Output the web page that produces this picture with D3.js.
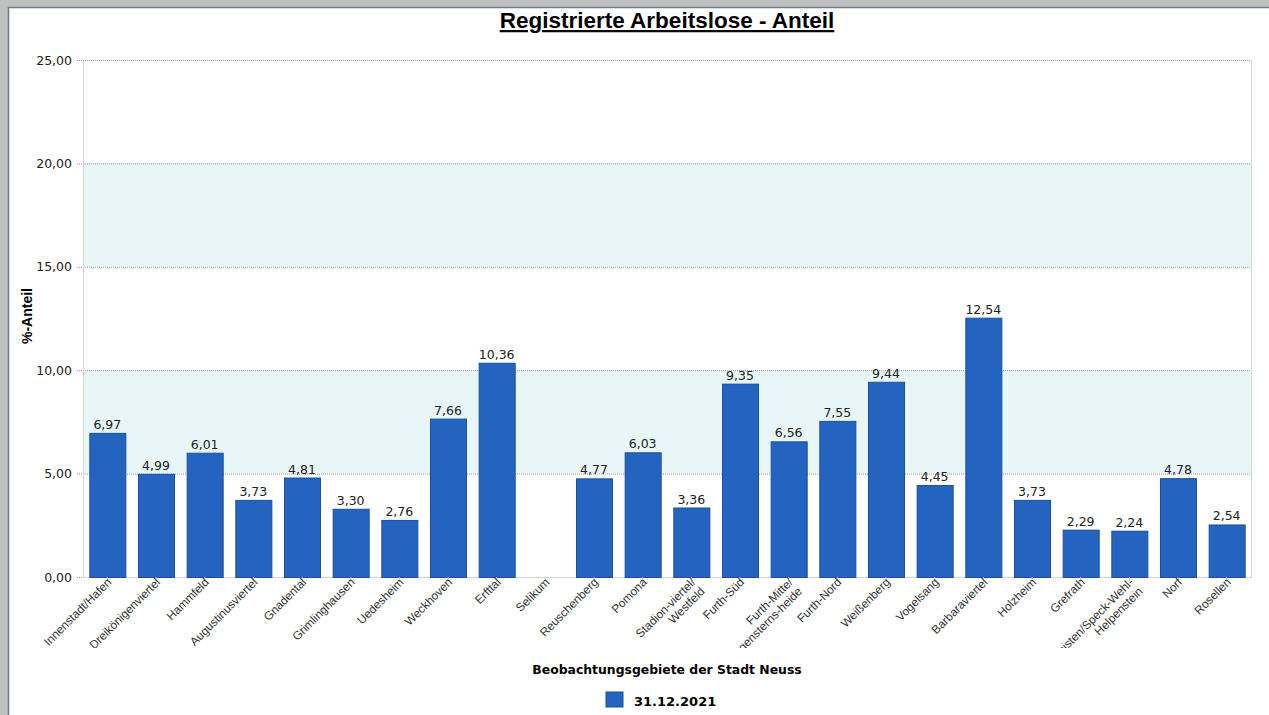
<!DOCTYPE html>
<html><head><meta charset="utf-8">
<script src="https://cdn.jsdelivr.net/npm/d3@7"></script>
<style>
html,body{margin:0;padding:0;background:#c0c0c0;overflow:hidden}
svg{display:block}
</style></head><body>
<script>
const categories = ["Innenstadt/Hafen","Dreikönigenviertel","Hammfeld","Augustinusviertel","Gnadental","Grimlinghausen","Uedesheim","Weckhoven","Erfttal","Selikum","Reuschenberg","Pomona","Stadion-viertel/|Westfeld","Furth-Süd","Furth-Mitte/|Morgensterns-heide","Furth-Nord","Weißenberg","Vogelsang","Barbaraviertel","Holzheim","Grefrath","Hoisten/Speck-Wehl-|Helpenstein","Norf","Rosellen"];
const values = [6.97,4.99,6.01,3.73,4.81,3.30,2.76,7.66,10.36,null,4.77,6.03,3.36,9.35,6.56,7.55,9.44,4.45,12.54,3.73,2.29,2.24,4.78,2.54];
const yTicks = [0,5,10,15,20,25];
const bands = [[5,10],[15,20]];
const seriesName = "31.12.2021";
const title = "Registrierte Arbeitslose - Anteil";
const xTitle = "Beobachtungsgebiete der Stadt Neuss";
const yTitle = "%-Anteil";

const W = 1269, H = 715;
const m = {left:83, top:60, right:1251, bottom:577};
const fmt = v => v.toFixed(2).replace(".", ",");
const font = "'DejaVu Sans', Verdana, sans-serif";
const labelFont = "'Liberation Sans', Arial, sans-serif";

const svg = d3.select("body").append("svg").attr("width", W).attr("height", H);
svg.append("rect").attr("x",0).attr("y",0).attr("width",W).attr("height",H).attr("fill","#c0c0c0");
svg.append("rect").attr("x",8.5).attr("y",7.5).attr("width",W).attr("height",H).attr("fill","#fff").attr("stroke","#6b7b8b").attr("stroke-width",1.5);

const x = d3.scaleBand().domain(categories).range([m.left, m.right]).paddingInner(0.26).paddingOuter(0.13);
const y = d3.scaleLinear().domain([0,25]).range([m.bottom, m.top]);

// bands
svg.selectAll("rect.band").data(bands).join("rect")
  .attr("x", m.left).attr("width", m.right - m.left)
  .attr("y", d => y(d[1])).attr("height", d => y(d[0]) - y(d[1]))
  .attr("fill", "#e8f6f8");

// y axis grid + labels
const yAxis = d3.axisLeft(y).tickValues(yTicks).tickFormat(fmt).tickSize(-(m.right - m.left + 6)).tickPadding(5);
const gy = svg.append("g").attr("transform", `translate(${m.left - 6},0)`).call(yAxis);
gy.select(".domain").remove();
gy.selectAll(".tick line").attr("stroke", "#8a9a9a").attr("stroke-dasharray", "1,1").attr("stroke-width", 1);
gy.selectAll(".tick text").attr("font-family", font).attr("font-size", "12.5px").attr("fill", "#222");

// plot frame sides
svg.append("line").attr("x1", m.left+0.5).attr("x2", m.left+0.5).attr("y1", m.top).attr("y2", m.bottom).attr("stroke", "#d4d4d4");
svg.append("line").attr("x1", m.right+0.5).attr("x2", m.right+0.5).attr("y1", m.top).attr("y2", m.bottom).attr("stroke", "#d4d4d4");
svg.append("line").attr("x1", m.left).attr("x2", m.right+1).attr("y1", m.bottom+0.5).attr("y2", m.bottom+0.5).attr("stroke", "#d4d4d4");

// bars
const data = categories.map((c,i) => ({c, v: values[i]})).filter(d => d.v != null);
svg.selectAll("rect.bar").data(data).join("rect")
  .attr("class","bar")
  .attr("x", d => x(d.c) + 0.5).attr("width", x.bandwidth())
  .attr("y", d => y(d.v) + 0.5).attr("height", d => y(0) - y(d.v))
  .attr("fill", "#2563c1").attr("stroke", "#1c4f9e").attr("stroke-width", 1);

svg.selectAll("text.val").data(data).join("text")
  .attr("x", d => x(d.c) + x.bandwidth()/2).attr("y", d => y(d.v) - 4)
  .attr("text-anchor","middle").attr("font-family", font).attr("font-size","12.5px").attr("fill","#222")
  .text(d => fmt(d.v));

// x axis
const clip = svg.append("clipPath").attr("id","xclip");
clip.append("rect").attr("x",0).attr("y",m.bottom).attr("width",W).attr("height",648 - m.bottom);
const gx = svg.append("g").attr("clip-path","url(#xclip)");
const xAxis = d3.axisBottom(x).tickSize(5).tickFormat("");
const gxa = gx.append("g").attr("transform", `translate(0,${m.bottom})`).call(xAxis);
gxa.select(".domain").remove();
gxa.selectAll(".tick line").attr("stroke", "#c8c8c8");
categories.forEach(c => {
  const cx = x(c) + x.bandwidth()/2 + 2;
  const t = gx.append("text")
    .attr("transform", `translate(${cx},${m.bottom + 3}) rotate(-45)`)
    .attr("text-anchor","end").attr("font-family", labelFont).attr("font-size","11.8px").attr("fill","#333");
  c.split("|").forEach((line, i) => {
    t.append("tspan").attr("x", 0).attr("dy", i === 0 ? "0.35em" : "1.1em").text(line);
  });
});

// titles
svg.append("text").attr("x", 667).attr("y", 28).attr("text-anchor","middle")
  .attr("font-family","'Liberation Sans', Arial, sans-serif").attr("font-weight","bold").attr("font-size","22.5px")
  .attr("fill","#000").attr("text-decoration","underline").text(title);

svg.append("text").attr("transform","translate(32,316) rotate(-90)").attr("text-anchor","middle")
  .attr("font-family","'Liberation Sans', Arial, sans-serif").attr("font-weight","bold").attr("font-size","14px")
  .attr("fill","#000").text(yTitle);

svg.append("text").attr("x", 667).attr("y", 674).attr("text-anchor","middle")
  .attr("font-family", font).attr("font-weight","bold").attr("font-size","12.4px").attr("fill","#000").text(xTitle);

// legend
const lg = svg.append("g");
lg.append("rect").attr("x",606).attr("y",692).attr("width",17).attr("height",15).attr("fill","#2563c1").attr("stroke","#1c4f9e");
lg.append("text").attr("x",634).attr("y",706).attr("font-family", font).attr("font-weight","bold").attr("font-size","13px").attr("fill","#000").text(seriesName);
</script>
</body></html>
